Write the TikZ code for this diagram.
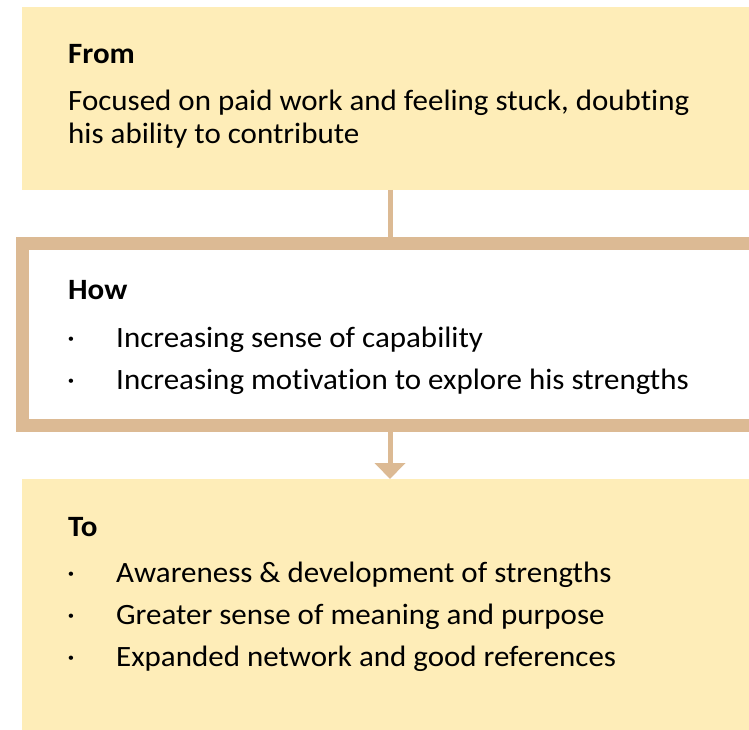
\documentclass[tikz,border=0pt]{standalone}
\usepackage{fontspec}
\setmainfont{Carlito}[FakeStretch=1.05, Ligatures=NoCommon]
\usetikzlibrary{arrows.meta}
\definecolor{paleyellow}{HTML}{FEEDB8}
\definecolor{tan}{HTML}{DCBA94}
\tikzset{
  yellowbox/.style={fill=paleyellow, draw=none, inner sep=0pt, outer sep=0pt, anchor=north west, minimum width=736pt},
  framebox/.style={fill=white, draw=tan, line width=13pt, inner sep=0pt, outer sep=0pt, anchor=north west, minimum width=735pt},
  link/.style={draw=tan, line width=5pt},
  txt/.style={anchor=base west, inner sep=0pt, font=\fontsize{29.5}{33}\selectfont, align=left},
  head/.style={txt, font=\fontsize{29.5}{33}\selectfont\bfseries},
  bul/.style={anchor=base west, inner sep=0pt, font=\fontsize{29.5}{33}\selectfont},
}
\begin{document}
\begin{tikzpicture}[x=1pt,y=-1pt]
\useasboundingbox (0,0) rectangle (749,730);
\clip (0,0) rectangle (749,730);
\fill[white] (0,0) rectangle (749,730);
% boxes
\node[yellowbox, minimum height=183pt] (from) at (22,7) {};
\node[framebox, minimum height=182pt] (how) at (22.5,243.5) {};
\node[yellowbox, minimum height=260pt] (to) at (22,479) {};
% connectors
\draw[link] (from.south) -- (how.north);
\draw[link, -{Triangle[width=30pt,length=16pt]}] (how.south) -- (to.north);
% From text
\node[head] (fromhead) at (68,64) {From};
\node[txt] (fromtext) at (68,144) {Focused on paid work and feeling stuck, doubting\\his ability to contribute};
% How text
\node[head] (howhead) at (68,299) {How};
\node[bul] (hb1) at (67,347) {·};
\node[txt] (ht1) at (116,347) {Increasing sense of capability};
\node[bul] (hb2) at (67,389) {·};
\node[txt] (ht2) at (116,389) {Increasing motivation to explore his strengths};
% To text
\node[head] (tohead) at (68,536) {To};
\node[bul] (tb1) at (67,582) {·};
\node[txt] (tt1) at (116,582) {Awareness \& development of strengths};
\node[bul] (tb2) at (67,624) {·};
\node[txt] (tt2) at (116,624) {Greater sense of meaning and purpose};
\node[bul] (tb3) at (67,666) {·};
\node[txt] (tt3) at (116,666) {Expanded network and good references};
\end{tikzpicture}
\end{document}
